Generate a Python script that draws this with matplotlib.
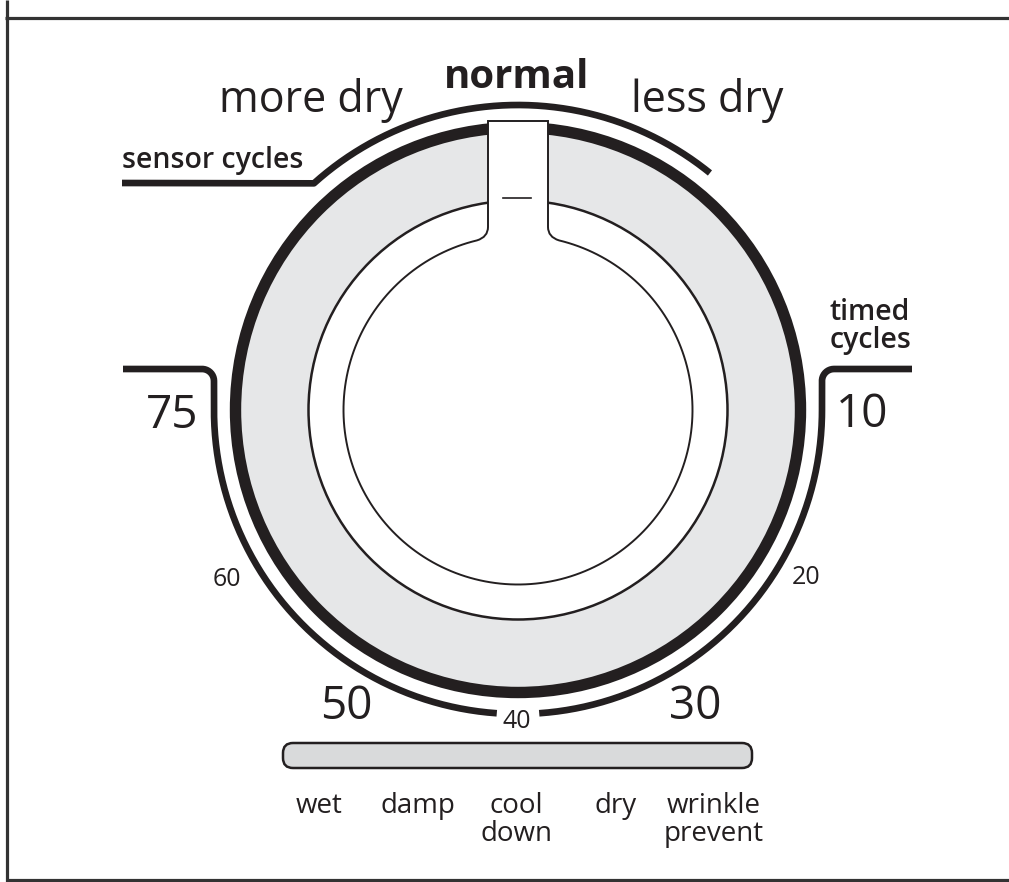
import numpy as np
import matplotlib.pyplot as plt
from matplotlib.patches import Wedge, Circle, FancyBboxPatch, PathPatch
from matplotlib.path import Path

plt.rcParams['font.family'] = ['Open Sans', 'DejaVu Sans']

# Dial texts
dryness_labels = ['more dry', 'normal', 'less dry']
cycle_labels = ['sensor cycles', 'timed\ncycles']
big_minutes = ['75', '50', '30', '10']
small_minutes = ['60', '40', '20']
stage_labels = ['wet', 'damp', 'cool\ndown', 'dry', 'wrinkle\nprevent']

# Layout (pixel coordinates, y down)
ink = '#231f20'
band_gray = '#e6e7e8'
bar_gray = '#d9dadb'
cx, cy = 518, 410
r_ring, r_band, r_knob, r_outer = 282.5, 209.5, 174.5, 304

dryness_pos = [(311, 112), (517, 88), (707, 112)]
big_pos = [(172, 428), (346, 719), (695, 719), (862, 427)]
small_pos = [(227, 586), (517, 728), (806, 584)]
stage_x = np.linspace(319, 714, len(stage_labels))


def arc(r, t0, t1, x0=cx, y0=cy, n=200):
    t = np.radians(np.linspace(t0, t1, n))
    return x0 + r * np.cos(t), y0 - r * np.sin(t)


fig = plt.figure(figsize=(10.09, 8.82), dpi=100)
ax = fig.add_axes([0, 0, 1, 1])
ax.set_xlim(0, 1009)
ax.set_ylim(882, 0)
ax.set_aspect('equal')
ax.axis('off')

# frame
ax.plot([5, 1009], [18, 18], color='#333333', lw=2.3, solid_capstyle='butt')
ax.plot([7, 7], [0, 882], color='#333333', lw=2.3, solid_capstyle='butt')
ax.plot([7, 1009], [880, 880], color='#333333', lw=2.3, solid_capstyle='butt')

# gray band and rings
ax.add_patch(Wedge((cx, cy), r_ring, 0, 360, width=r_ring - r_band,
                   fc=band_gray, ec='none'))
ax.add_patch(Circle((cx, cy), r_band, fill=False, ec=ink, lw=1.8))
ax.add_patch(Circle((cx, cy), r_ring, fill=False, ec=ink, lw=8.2))

# knob with pointer notch
half = 30
top = 121
dx = 41
t_off = np.degrees(np.arcsin(dx / r_knob))
ky = cy - np.sqrt(r_knob**2 - dx**2)
ax_, ay_ = arc(r_knob, 90 + t_off, 450 - t_off)
verts = [(x, y) for x, y in zip(ax_, ay_)]
codes = [Path.MOVETO] + [Path.LINETO] * (len(verts) - 1)
verts += [(cx + half, 237), (cx + half, 227), (cx + half, top), (cx - half, top),
          (cx - half, 227), (cx - half, 237), (cx - dx, ky), (cx - dx, ky)]
codes += [Path.CURVE3, Path.CURVE3, Path.LINETO, Path.LINETO,
          Path.LINETO, Path.CURVE3, Path.CURVE3, Path.CLOSEPOLY]
ax.add_patch(PathPatch(Path(verts, codes), fc='white', ec=ink, lw=1.4))
ax.plot([503, 531], [198, 198], color=ink, lw=1.2)

# sensor cycles line
sx, sy = arc(305, 132, 51)
ax.plot(np.r_[122, sx], np.r_[183, sy], color=ink, lw=4.8,
        solid_capstyle='butt', solid_joinstyle='round')

# timed cycles lines
c1x, c1y = arc(12, 90, 0, 202, 381, 20)
l1x, l1y = arc(r_outer, 180, 266)
ax.plot(np.r_[123, c1x, l1x], np.r_[369, c1y, l1y], color=ink, lw=4.8,
        solid_capstyle='butt', solid_joinstyle='round')
r1x, r1y = arc(r_outer, 274, 360)
c2x, c2y = arc(12, 180, 90, 834, 381, 20)
ax.plot(np.r_[r1x, c2x, 912], np.r_[r1y, c2y, 369], color=ink, lw=4.8,
        solid_capstyle='butt', solid_joinstyle='round')

# stage bar
ax.add_patch(FancyBboxPatch((283, 743), 469, 25,
                            boxstyle='round,pad=0,rounding_size=10',
                            fc=bar_gray, ec=ink, lw=1.8))

# texts
for lab, (x, y) in zip(dryness_labels, dryness_pos):
    ax.text(x, y, lab, ha='center', va='baseline', color=ink,
            fontsize=29 if lab == 'normal' else 31,
            weight='bold' if lab == 'normal' else 'normal')

ax.text(122, 168, cycle_labels[0], ha='left', va='baseline', color=ink,
        fontsize=20.5, weight=600)
for i, line in enumerate(cycle_labels[1].split('\n')):
    ax.text(830, 320 + 28 * i, line, ha='left', va='baseline', color=ink,
            fontsize=20.5, weight=600)

for lab, (x, y) in zip(big_minutes, big_pos):
    ax.text(x, y, lab, ha='center', va='baseline', color=ink, fontsize=33)
for lab, (x, y) in zip(small_minutes, small_pos):
    ax.text(x, y, lab, ha='center', va='baseline', color=ink, fontsize=18)

for lab, x in zip(stage_labels, stage_x):
    for i, line in enumerate(lab.split('\n')):
        ax.text(x, 813 + 28 * i, line, ha='center', va='baseline', color=ink, fontsize=20)

plt.savefig('out.png', dpi=100)
plt.close()
